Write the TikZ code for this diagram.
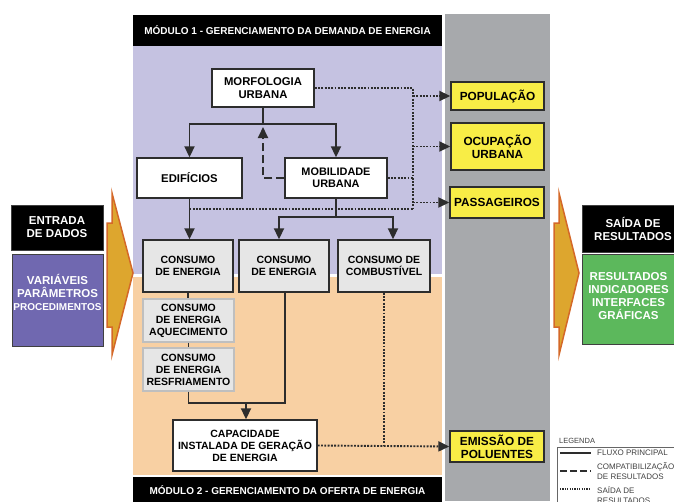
\documentclass[tikz,border=0pt]{standalone}
\usepackage{fontspec}
\setmainfont{Liberation Sans}
\usetikzlibrary{arrows.meta}

\definecolor{lavanda}{RGB}{197,194,225}
\definecolor{pessego}{RGB}{248,208,163}
\definecolor{cinzacol}{RGB}{167,169,172}
\definecolor{cinzacaixa}{RGB}{230,230,230}
\definecolor{contorno}{RGB}{45,45,45}
\definecolor{amarelo}{RGB}{248,237,70}
\definecolor{roxo}{RGB}{112,104,176}
\definecolor{verde}{RGB}{92,184,92}
\definecolor{ouro}{RGB}{221,166,46}
\definecolor{laranja}{RGB}{212,104,40}

\tikzset{
	caixa/.style={draw=contorno, line width=1.4pt, fill=white, align=center, inner sep=1pt,
		font=\fontsize{10.5}{12}\selectfont\bfseries},
	caixagrande/.style={caixa, font=\fontsize{11.3}{12.5}\selectfont\bfseries},
	consumo/.style={caixa, fill=cinzacaixa},
	subconsumo/.style={caixa, fill=cinzacaixa, draw=black!25},
	saidabox/.style={caixa, fill=amarelo, font=\fontsize{11.8}{13}\selectfont\bfseries},
	lado/.style={align=center, text=white, inner sep=1pt, draw=black!75, line width=1pt,
		font=\fontsize{11.5}{13}\selectfont\bfseries},
	modulo/.style={fill=black, text=white, inner sep=0pt, font=\fontsize{10}{12}\selectfont\bfseries},
	fluxo/.style={line width=1.9pt, draw=contorno},
	seta/.style={fluxo, -{Triangle[length=11pt,width=10pt]}},
	compat/.style={seta, dash pattern=on 8pt off 4pt},
	pontilhado/.style={fluxo, dash pattern=on 1.9pt off 1.4pt},
	resultado/.style={pontilhado, -{Triangle[length=11pt,width=10pt]}},
	legtexto/.style={anchor=west, align=left, inner sep=0pt, text=black!75,
		font=\fontsize{8}{9.5}\selectfont},
}

\begin{document}
\begin{tikzpicture}[x=1pt, y=-1pt]
	%%%%% START %%%%%
	
	\useasboundingbox (0,0) rectangle (674,501);
	\clip (0,0) rectangle (674,501);
	
	% fundos dos modulos
	\fill[lavanda] (133,45) rectangle (442,274);
	\fill[pessego] (133,277) rectangle (442,475);
	\fill[cinzacol] (445,14) rectangle (550,501);
	
	\node[modulo, minimum width=309pt, minimum height=31pt] (mod1) at (287.5,30) {MÓDULO 1 - GERENCIAMENTO DA DEMANDA DE ENERGIA};
	\node[modulo, minimum width=309pt, minimum height=26pt] (mod2) at (287.5,490) {MÓDULO 2 - GERENCIAMENTO DA OFERTA DE ENERGIA};
	
	% setas de entrada e saida
	\draw[fill=ouro, draw=laranja, line width=1.5pt] (112,193) -- (133,273) -- (112,355) -- (112,327) -- (107,327) -- (107,223) -- (112,223) -- cycle;
	\draw[fill=ouro, draw=laranja, line width=1.5pt] (559,193) -- (579,273) -- (559,355) -- (559,327) -- (554,327) -- (554,223) -- (559,223) -- cycle;
	
	\node[lado, fill=black, minimum width=92pt, minimum height=45pt] (entrada) at (57,227.5) {ENTRADA\\DE DADOS};
	\node[lado, fill=roxo, minimum width=91pt, minimum height=92pt] (varia) at (57.5,300) {VARIÁVEIS\\PARÂMETROS\\{\fontsize{10}{13}\selectfont PROCEDIMENTOS}\\[2pt]\mbox{}};
	
	\node[lado, fill=black, minimum width=102pt, minimum height=47pt] (saida) at (633,228.5) {SAÍDA DE\\RESULTADOS};
	\node[lado, fill=verde, minimum width=92pt, minimum height=90pt] (graf) at (628.5,299) {RESULTADOS\\INDICADORES\\INTERFACES\\GRÁFICAS\\[-6pt]\mbox{}};
	
	% modulo 1
	\node[caixagrande, minimum width=102pt, minimum height=38pt] (morf) at (263,88) {MORFOLOGIA\\URBANA};
	\node[caixagrande, minimum width=105pt, minimum height=40pt] (edif) at (189.5,178) {EDIFÍCIOS};
	\node[caixa, font=\fontsize{10.9}{12.3}\selectfont\bfseries, minimum width=102pt, minimum height=40pt] (mobil) at (336,178) {MOBILIDADE\\URBANA};
	
	\node[consumo, minimum width=90pt, minimum height=52pt] (cons1) at (188,266) {CONSUMO\\DE ENERGIA};
	\node[consumo, minimum width=90pt, minimum height=52pt] (cons2) at (284,266) {CONSUMO\\DE ENERGIA};
	\node[consumo, minimum width=92pt, minimum height=52pt] (comb) at (384,266) {CONSUMO DE\\COMBUSTÍVEL};
	
	% modulo 2
	\node[subconsumo, minimum width=91pt, minimum height=43pt] (aquec) at (188.5,320.5) {CONSUMO\\DE ENERGIA\\AQUECIMENTO};
	\node[subconsumo, minimum width=91pt, minimum height=43pt] (resfr) at (188.5,369.5) {CONSUMO\\DE ENERGIA\\RESFRIAMENTO};
	\node[caixa, minimum width=144pt, minimum height=51pt] (capac) at (245,445.5) {CAPACIDADE\\INSTALADA DE GERAÇÃO\\DE ENERGIA};
	
	% resultados
	\node[saidabox, minimum width=93pt, minimum height=28pt] (pop) at (497.5,96) {POPULAÇÃO};
	\node[saidabox, minimum width=93pt, minimum height=47pt] (ocup) at (497.5,146.5) {OCUPAÇÃO\\URBANA};
	\node[saidabox, minimum width=94pt, minimum height=31pt] (pass) at (497,202.5) {PASSAGEIROS};
	\node[saidabox, minimum width=94pt, minimum height=31pt] (emis) at (497,446.5) {EMISSÃO DE\\POLUENTES};
	
	% fluxo principal
	\coordinate (jm) at (263,124);
	\draw[fluxo] (morf.south) -- (jm);
	\draw[seta] (jm) -| (edif.north);
	\draw[seta] (jm) -| (mobil.north);
	\coordinate (jd) at (263,127);
	\draw[compat] (mobil.west) -| (jd);
	
	\draw[seta] (edif.south) -- (edif.south |- cons1.north);
	\coordinate (jb) at (336,217);
	\draw[fluxo] (mobil.south) -- (jb);
	\draw[seta] (jb) -| ([xshift=-5pt]cons2.north);
	\draw[seta] (jb) -| ([xshift=9pt]comb.north);
	
	\coordinate (jc) at (246,403);
	\draw[fluxo] (cons1.south) -- (cons1.south |- aquec.north);
	\draw[fluxo] (aquec.south) -- (aquec.south |- resfr.north);
	\draw[fluxo] (resfr.south) |- (jc);
	\draw[fluxo] ([xshift=1pt]cons2.south) |- (jc);
	\draw[seta] (jc) -- (jc |- capac.north);
	
	% saida de resultados
	\coordinate (dbus) at (413,209);
	\draw[pontilhado] (morf.east) -| (dbus);
	\draw[pontilhado] (mobil.east) -- (mobil.east -| dbus);
	\draw[pontilhado] (edif.south |- dbus) -- (dbus);
	\draw[resultado] (pop.west -| dbus) -- (pop.west);
	\draw[resultado] (ocup.west -| dbus) -- (ocup.west);
	\draw[resultado] (pass.west -| dbus) -- (pass.west);
	\draw[pontilhado] (comb.south) -- (comb.south |- capac.east);
	\draw[resultado] (capac.east) -- (emis.west);
	
	% legenda
	\node[legtexto, font=\fontsize{7.5}{9}\selectfont] (legenda) at (559,441) {LEGENDA};
	\draw[black!60, line width=0.7pt] (557,447) rectangle (700,520);
	\coordinate (l1a) at (560,453); \coordinate (l1b) at (591,453);
	\coordinate (l2a) at (560,471); \coordinate (l2b) at (591,471);
	\coordinate (l3a) at (560,489); \coordinate (l3b) at (591,489);
	\draw[fluxo, line width=1.4pt] (l1a) -- (l1b);
	\draw[fluxo, line width=1.4pt, dash pattern=on 7pt off 3pt] (l2a) -- (l2b);
	\draw[fluxo, line width=1.2pt, dash pattern=on 1.2pt off 1.2pt] (l3a) -- (l3b);
	\node[legtexto] (leg1) at (597,453) {FLUXO PRINCIPAL};
	\node[legtexto] (leg2) at (597,471) {COMPATIBILIZAÇÃO\\DE RESULTADOS};
	\node[legtexto] (leg3) at (597,495) {SAÍDA DE\\RESULTADOS};
	
	%%%%% END %%%%%
\end{tikzpicture}
\end{document}
